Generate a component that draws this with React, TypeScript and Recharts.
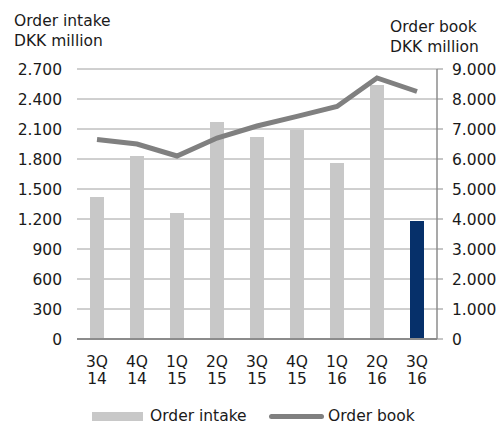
import React from 'react';
import { ComposedChart, Bar, Line, XAxis, YAxis, CartesianGrid, Legend, Cell, Customized } from 'recharts';

const categories = ['3Q 14', '4Q 14', '1Q 15', '2Q 15', '3Q 15', '4Q 15', '1Q 16', '2Q 16', '3Q 16'];
const orderIntake = [1420, 1830, 1260, 2170, 2020, 2090, 1760, 2540, 1180];
const orderBook = [6650, 6500, 6100, 6700, 7100, 7420, 7750, 8700, 8250];
const leftTicks = [0, 300, 600, 900, 1200, 1500, 1800, 2100, 2400, 2700];
const rightTicks = [0, 1000, 2000, 3000, 4000, 5000, 6000, 7000, 8000, 9000];

const data = categories.map((c, i) => ({ cat: c, intake: orderIntake[i], book: orderBook[i] }));

const FONT = '"DejaVu Sans", Verdana, sans-serif';
const FS = 15.5;
const fmt = (v: number) => v.toLocaleString('de-DE');

const XTick = (props: any) => {
  const { x, y, payload } = props;
  const [a, b] = String(payload.value).split(' ');
  return (
    <text x={x} y={y} textAnchor="middle" fontFamily={FONT} fontSize={FS} fill="#1a1a1a">
      <tspan x={x} dy={20}>{a}</tspan>
      <tspan x={x} dy={17}>{b}</tspan>
    </text>
  );
};

const Titles = () => (
  <g fontFamily={FONT} fontSize={FS} fill="#1a1a1a">
    <text x={14} y={26}>Order intake</text>
    <text x={14} y={46}>DKK million</text>
    <text x={390} y={32}>Order book</text>
    <text x={390} y={52}>DKK million</text>
  </g>
);

const LegendContent = () => (
  <div style={{ position: 'relative', width: 500, height: 16, fontFamily: FONT, fontSize: FS, color: '#1a1a1a' }}>
    <div style={{ position: 'absolute', left: 92, top: 3, width: 51, height: 9, background: '#c8c8c8' }} />
    <span style={{ position: 'absolute', left: 150, top: -2, lineHeight: '18px', whiteSpace: 'nowrap' }}>Order intake</span>
    <div style={{ position: 'absolute', left: 269, top: 5, width: 55, height: 5, background: '#808080', borderRadius: 3 }} />
    <span style={{ position: 'absolute', left: 328, top: -2, lineHeight: '18px', whiteSpace: 'nowrap' }}>Order book</span>
  </div>
);

export default function App() {
  return (
    <div style={{ position: 'absolute', left: 0, top: 0, width: 500, height: 425, background: '#fff' }}>
      <ComposedChart width={500} height={425} data={data} margin={{ top: 69, right: 0, left: 0, bottom: 0 }}>
        <CartesianGrid horizontal vertical={false} stroke="#a0a0a0" yAxisId="left" />
        <XAxis dataKey="cat" height={70} tick={<XTick />} tickLine={false} axisLine={{ stroke: '#8c8c8c', strokeWidth: 2 }} interval={0} />
        <YAxis yAxisId="left" orientation="left" width={77} domain={[0, 2700]} ticks={leftTicks} tickFormatter={fmt}
          axisLine={false} tickLine={false} tickSize={6} tickMargin={9}
          tick={{ fontFamily: FONT, fontSize: FS, fill: '#1a1a1a' }} interval={0} />
        <YAxis yAxisId="right" orientation="right" width={63} domain={[0, 9000]} ticks={rightTicks} tickFormatter={fmt}
          axisLine={{ stroke: '#8c8c8c', strokeWidth: 1.5 }} tickLine={{ stroke: '#8c8c8c' }} tickSize={6} tickMargin={9}
          tick={{ fontFamily: FONT, fontSize: FS, fill: '#1a1a1a', textAnchor: 'start' }} interval={0} />
        <Bar yAxisId="left" dataKey="intake" barSize={14} fill="#c8c8c8" isAnimationActive={false}>
          {data.map((d, i) => (
            <Cell key={i} fill={i === data.length - 1 ? '#06306a' : '#c8c8c8'} />
          ))}
        </Bar>
        <Line yAxisId="right" dataKey="book" stroke="#808080" strokeWidth={5} dot={false} isAnimationActive={false} type="linear" />
        <Legend verticalAlign="bottom" content={<LegendContent />} wrapperStyle={{ left: 0, width: 500 }} />
        <Customized component={<Titles />} />
      </ComposedChart>
    </div>
  );
}
